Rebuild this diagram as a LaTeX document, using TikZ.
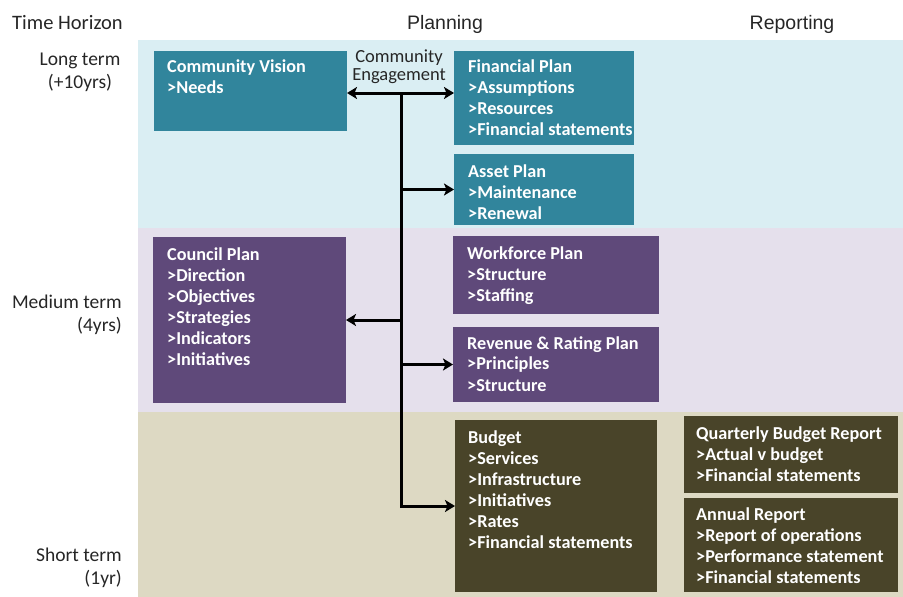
\documentclass[tikz,border=0pt]{standalone}
\usepackage{fontspec}
\setmainfont{Carlito}
\newfontfamily\arialfont{Liberation Sans}
\usetikzlibrary{arrows.meta,calc}
\definecolor{tealbox}{HTML}{31859C}
\definecolor{tealband}{HTML}{DAEEF3}
\definecolor{purpbox}{HTML}{5F497A}
\definecolor{purpband}{HTML}{E5E0EC}
\definecolor{olivebox}{HTML}{494429}
\definecolor{oliveband}{HTML}{DDD9C3}
\definecolor{ink}{HTML}{262626}
\begin{document}
\begin{tikzpicture}[x=1pt,y=-1pt,
  box/.style={draw=none, fill=#1, anchor=north west, inner sep=0pt, outer sep=0pt},
  boxtext/.style={anchor=north west, inner sep=0pt, align=left, text=white,
    font=\fontsize{18.2}{21}\selectfont\bfseries, execute at begin node=\strut},
  hdr/.style={inner sep=0pt, text=ink, font=\fontsize{20.5}{23}\selectfont},
  hdrarial/.style={inner sep=0pt, text=ink, font=\arialfont\fontsize{19.5}{23}\selectfont},
  lbl/.style={inner sep=0pt, text=ink, font=\fontsize{19.5}{23}\selectfont},
  cetext/.style={inner sep=0pt, text=ink, align=center, font=\fontsize{18.5}{18}\selectfont},
  conn/.style={line width=3pt, black},
  tip/.tip={Stealth[length=10pt,width=12pt,inset=2.5pt]}
]
\useasboundingbox (0,0) rectangle (903,597);
% bands
\fill[tealband] (138,40) rectangle (903,228);
\fill[purpband] (138,228) rectangle (903,412);
\fill[oliveband] (138,412) rectangle (903,597);
% headers
\node[hdr, anchor=base west] (th) at (12,30) {Time Horizon};
\node[hdrarial, anchor=base] (pl) at (445,30) {Planning};
\node[hdrarial, anchor=base] (rp) at (792,30) {Reporting};
% time labels (anchor = baseline of last line)
\node[lbl, align=center, anchor=base] (lt) at (80,88) {Long term\\(+10yrs)};
\node[lbl, align=right, anchor=base east] (mt) at (122,331) {Medium term\\(4yrs)};
\node[lbl, align=right, anchor=base east] (st) at (122,584) {Short term\\(1yr)};
% boxes
\node[box=tealbox, minimum width=193pt, minimum height=80pt] (cv) at (154,51) {};
\node[box=tealbox, minimum width=180pt, minimum height=94pt] (fp) at (454,51) {};
\node[box=tealbox, minimum width=180pt, minimum height=71pt] (ap) at (454,154) {};
\node[box=purpbox, minimum width=193pt, minimum height=166pt] (cp) at (153,237) {};
\node[box=purpbox, minimum width=206pt, minimum height=78pt] (wp) at (453,236) {};
\node[box=purpbox, minimum width=206pt, minimum height=75pt] (rr) at (453,327) {};
\node[box=olivebox, minimum width=202pt, minimum height=172pt] (bg) at (455,420) {};
\node[box=olivebox, minimum width=214pt, minimum height=77pt] (qb) at (684,416) {};
\node[box=olivebox, minimum width=214pt, minimum height=94pt] (ar) at (684,498) {};
% box texts
\node[boxtext] (cvt) at ($(cv.north west)+(13,9)$) {Community Vision\\>Needs};
\node[boxtext] (fpt) at ($(fp.north west)+(14,9)$) {Financial Plan\\>Assumptions\\>Resources\\>Financial statements};
\node[boxtext] (apt) at ($(ap.north west)+(14,10.5)$) {Asset Plan\\>Maintenance\\>Renewal};
\node[boxtext] (cpt) at ($(cp.north west)+(14,10.5)$) {Council Plan\\>Direction\\>Objectives\\>Strategies\\>Indicators\\>Initiatives};
\node[boxtext] (wpt) at ($(wp.north west)+(14,10.5)$) {Workforce Plan\\>Structure\\>Staffing};
\node[boxtext] (rrt) at ($(rr.north west)+(14,9)$) {Revenue \& Rating Plan\\>Principles\\>Structure};
\node[boxtext] (bgt) at ($(bg.north west)+(13,11)$) {Budget\\>Services\\>Infrastructure\\>Initiatives\\>Rates\\>Financial statements};
\node[boxtext] (qbt) at ($(qb.north west)+(12,10.5)$) {Quarterly Budget Report\\>Actual v budget\\>Financial statements};
\node[boxtext] (art) at ($(ar.north west)+(12,10)$) {Annual Report\\>Report of operations\\>Performance statement\\>Financial statements};
% community engagement
\node[cetext, anchor=base] (ce) at (399,80) {Community\\Engagement};
\coordinate (hub) at (401,93);
% connectors
\draw[conn, tip-tip] (cv.east |- hub) -- (fp.west |- hub);
\draw[conn, -tip] (hub) -- (hub |- bg.west) -- (bg.west);
\draw[conn, -tip] (hub |- ap.west) -- (ap.west);
\draw[conn, -tip] (hub |- cp.east) -- (cp.east);
\draw[conn, -tip] (hub |- rr.west) -- (rr.west);
\end{tikzpicture}
\end{document}
